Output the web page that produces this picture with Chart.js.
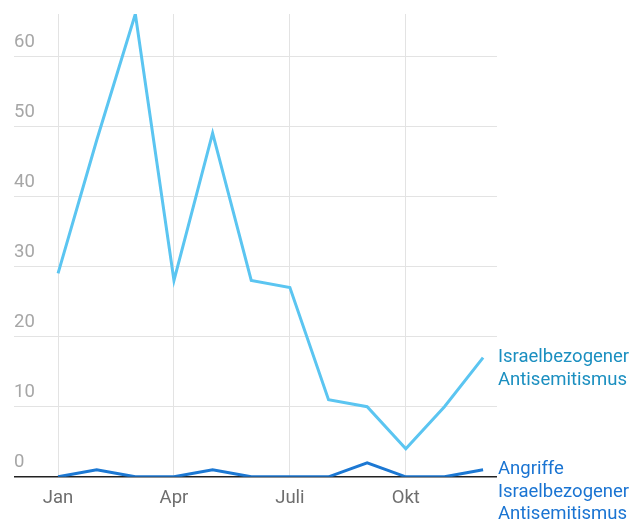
<!DOCTYPE html>
<html>
<head>
<meta charset="utf-8">
<script src="https://cdn.jsdelivr.net/npm/chart.js@4"></script>
<style>
  html, body { margin: 0; padding: 0; background: #fff; }
  #wrap { width: 640px; height: 520px; }
</style>
</head>
<body>
<div id="wrap"><canvas id="chart"></canvas></div>
<script>
// Monate (Index 0 = Jan)
const months = ["Jan", "Feb", "Mär", "Apr", "Mai", "Juni", "Juli", "Aug", "Sep", "Okt", "Nov", "Dez"];
const tickMonths = [0, 3, 6, 9];
const yTicks = [0, 10, 20, 30, 40, 50, 60];

const israelbezogen = [29, 48, 66, 28, 49, 28, 27, 11, 10, 4, 10, 17];
const angriffe = [0, 1, 0, 0, 1, 0, 0, 0, 2, 0, 0, 1];

const seriesLabels = [
  ["Israelbezogener", "Antisemitismus"],
  ["Angriffe", "Israelbezogener", "Antisemitismus"]
];

const FONT = "Roboto, 'Noto Sans', sans-serif";

// Beschriftung rechts am letzten Punkt
const endLabels = {
  id: "endLabels",
  afterDatasetsDraw(chart) {
    const { ctx } = chart;
    chart.data.datasets.forEach((ds, i) => {
      const meta = chart.getDatasetMeta(i);
      const last = meta.data[meta.data.length - 1];
      if (!last) return;
      ctx.save();
      ctx.font = "18.5px " + FONT;
      ctx.fillStyle = ds.labelColor;
      ctx.textAlign = "left";
      ctx.textBaseline = "middle";
      ds.endLabel.forEach((line, k) => {
        ctx.fillText(line, chart.chartArea.right + 1, last.y + k * 22.3);
      });
      ctx.restore();
    });
  }
};

new Chart(document.getElementById("chart"), {
  type: "line",
  data: {
    datasets: [
      {
        data: israelbezogen.map((v, i) => ({ x: i, y: v })),
        borderColor: "#5bc5f1",
        borderWidth: 3,
        pointRadius: 0,
        tension: 0,
        endLabel: seriesLabels[0],
        labelColor: "#1b8fc0"
      },
      {
        data: angriffe.map((v, i) => ({ x: i, y: v })),
        borderColor: "#1c78d3",
        borderWidth: 3,
        pointRadius: 0,
        tension: 0,
        endLabel: seriesLabels[1],
        labelColor: "#1a74d2"
      }
    ]
  },
  options: {
    responsive: true,
    maintainAspectRatio: false,
    animation: false,
    layout: { padding: { left: 14, right: 143, top: 14, bottom: 1 } },
    plugins: { legend: { display: false }, tooltip: { enabled: false } },
    scales: {
      x: {
        type: "linear",
        min: -1.14,
        max: 11.36,
        afterBuildTicks: (axis) => { axis.ticks = tickMonths.map((v) => ({ value: v })); },
        border: { display: false },
        grid: { color: "#e3e3e3", lineWidth: 1, drawTicks: false },
        ticks: {
          padding: 10,
          color: "#6e6e6e",
          font: { family: FONT, size: 18.5 },
          callback: (v) => months[v]
        }
      },
      y: {
        min: 0,
        max: 66,
        afterBuildTicks: (axis) => { axis.ticks = yTicks.map((v) => ({ value: v })); },
        border: { display: false },
        grid: {
          drawTicks: false,
          color: (c) => (c.tick && c.tick.value === 0 ? "#222" : "#e3e3e3"),
          lineWidth: (c) => (c.tick && c.tick.value === 0 ? 1.5 : 1)
        },
        ticks: {
          mirror: true,
          padding: 0,
          labelOffset: -14,
          color: "#a6a6a6",
          font: { family: FONT, size: 18.5 }
        }
      }
    }
  },
  plugins: [endLabels]
});
</script>
</body>
</html>
